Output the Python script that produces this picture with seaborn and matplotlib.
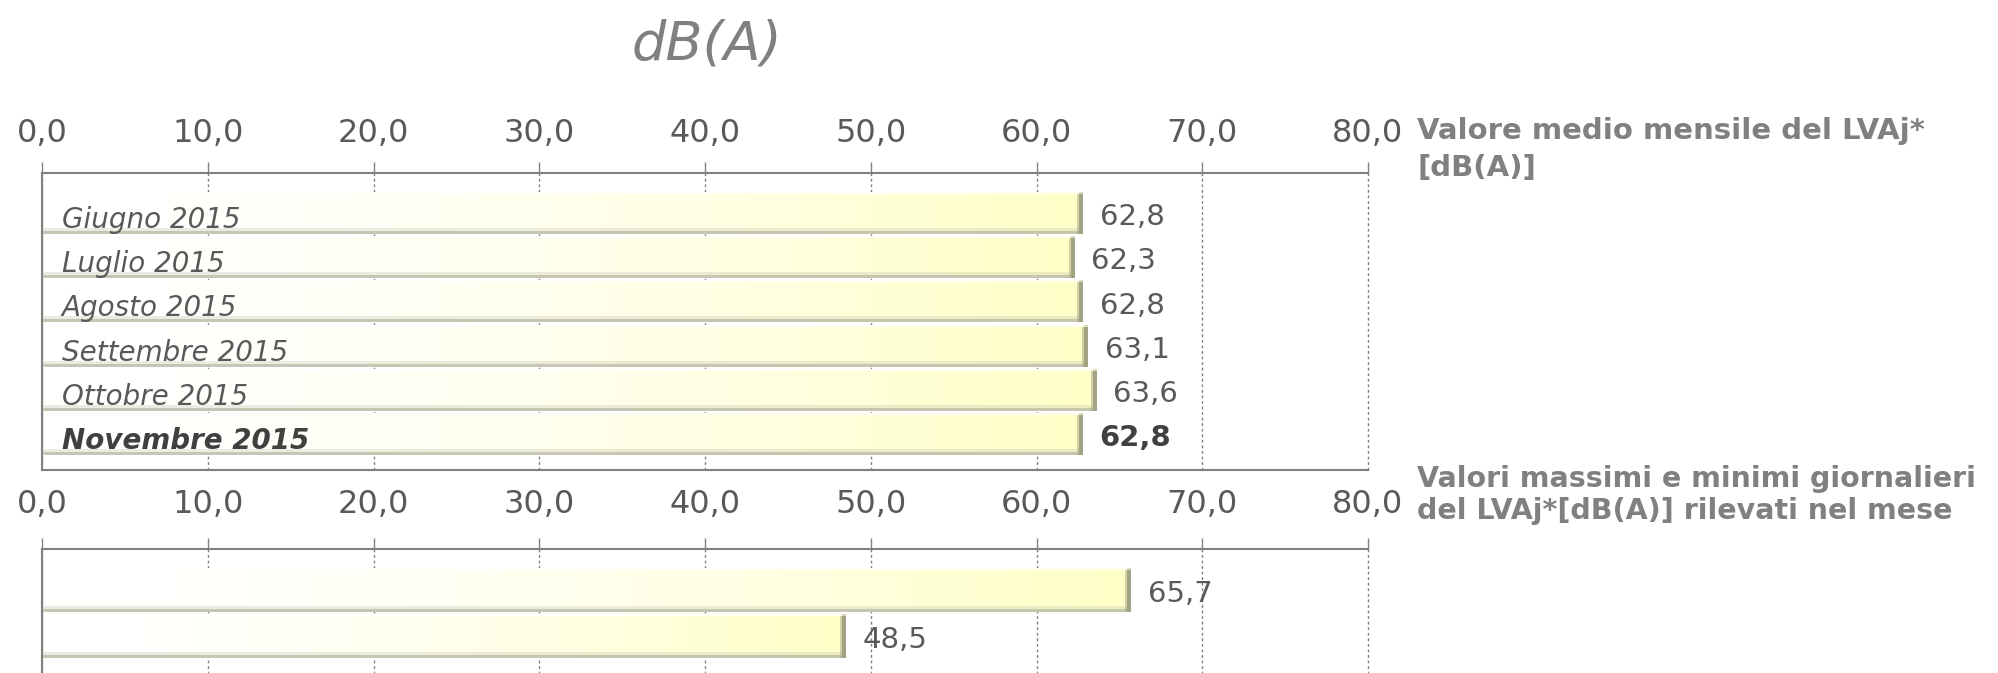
import numpy as np
import pandas as pd
import matplotlib
matplotlib.use("Agg")
import matplotlib.pyplot as plt
import seaborn as sns

# ---------------- data ----------------
months = ["Giugno 2015", "Luglio 2015", "Agosto 2015", "Settembre 2015",
          "Ottobre 2015", "Novembre 2015"]
lvaj_mean = [62.8, 62.3, 62.8, 63.1, 63.6, 62.8]
extreme_names = ["Massimo", "Minimo"]
extreme_values = [65.7, 48.5]
x_ticks = [0, 10, 20, 30, 40, 50, 60, 70, 80]
title_text = "dB(A)"
panel1_title = ["Valore medio mensile del LVAj*", "[dB(A)]"]
panel2_title = ["Valori massimi e minimi giornalieri", "del LVAj*[dB(A)] rilevati nel mese"]

# ---------------- style ----------------
sns.set_style("white")
plt.rcParams["font.family"] = ["DejaVu Sans"]

GRAY = "#808080"
TXT = "#595959"

W, H = 1998, 673
fig = plt.figure(figsize=(W / 100, H / 100), dpi=100)
fig.patch.set_facecolor("white")

ax1 = fig.add_axes([42 / W, 1 - 470 / H, (1368 - 42) / W, (470 - 173) / H])
ax2 = fig.add_axes([42 / W, 1 - 677 / H, (1368 - 42) / W, (677 - 549) / H])

df1 = pd.DataFrame({"mese": months, "valore": lvaj_mean})
df2 = pd.DataFrame({"tipo": extreme_names, "valore": extreme_values})

sns.barplot(data=df1, x="valore", y="mese", orient="h", color="#FFFFD2",
            saturation=1, width=0.95, linewidth=0, ax=ax1)
sns.barplot(data=df2, x="valore", y="tipo", orient="h", color="#FFFFD2",
            saturation=1, width=0.95, linewidth=0, ax=ax2)

lims = {ax1: (5.815, -0.905), ax2: (1.888, -0.888)}
pads = {ax1: 9, ax2: 13}


def fmt(v):
    return f"{v:.1f}".replace(".", ",")


def bar_image(wpx, hpx):
    cols = max(int(round(wpx)), 8)
    rows = max(int(round(hpx)), 8)
    t = np.linspace(0, 1, cols) ** 1.6
    white = np.array([1.0, 1.0, 1.0])
    yellow = np.array([1.0, 1.0, 0.78])
    base = white[None, :] * (1 - t[:, None]) + yellow[None, :] * t[:, None]
    img = np.tile(base[None, :, :], (rows, 1, 1))
    # top highlight
    img[0:2] = img[0:2] * 0.3 + 0.7
    # bottom shadow
    shade = np.array([0.74, 0.74, 0.66])
    img[-3:] = img[-3:] * 0.15 + shade * 0.85
    img[-6:-3] = img[-6:-3] * 0.7 + shade * 0.3
    # right bevel
    dark = np.array([0.64, 0.64, 0.52])
    img[2:, -4:] = dark
    img[2:, -6:-4] = img[2:, -6:-4] * 0.5 + dark * 0.5
    img[0:2, -4:] = np.array([0.85, 0.85, 0.75])
    # slight left edge shadow
    img[:, 0:2] = img[:, 0:2] * 0.6 + np.array([0.85, 0.85, 0.82]) * 0.4
    return np.clip(img, 0, 1)


for ax, vals in ((ax1, lvaj_mean), (ax2, extreme_values)):
    ax.set_xlim(0, 80)
    ax.set_ylim(*lims[ax])
    ax.set_axisbelow(True)
    ax.grid(axis="x", linestyle=(0, (2, 2)), color=GRAY, linewidth=1)
    ax.grid(axis="y", visible=False)
    ax.xaxis.tick_top()
    ax.set_xticks(x_ticks)
    ax.set_xticklabels([fmt(v) for v in x_ticks])
    ax.tick_params(axis="x", which="major", direction="out", length=8,
                   width=1, color=GRAY, labelsize=23, labelcolor=TXT, pad=pads[ax],
                   bottom=False, labelbottom=False, top=True, labeltop=True)
    for gl in ax.get_xgridlines():
        gl.set_clip_on(False)
    ylo, yhi = lims[ax]
    ax.set_yticks([yhi, ylo])
    ax.set_yticklabels(["", ""])
    ax.tick_params(axis="y", direction="out", length=8, width=1.5, color=GRAY)
    ax.set_xlabel("")
    ax.set_ylabel("")
    for side in ("top", "left", "bottom"):
        ax.spines[side].set_visible(True)
        ax.spines[side].set_color(GRAY)
        ax.spines[side].set_linewidth(1.5)
    ax.spines["right"].set_visible(False)

    # gradient / bevel rendering of each bar
    for p in list(ax.patches):
        x0, y0, w, h = p.get_x(), p.get_y(), p.get_width(), p.get_height()
        (px0, py0), (px1, py1) = ax.transData.transform([(x0, y0), (x0 + w, y0 + h)])
        img = bar_image(abs(px1 - px0), abs(py1 - py0))
        ax.imshow(img, extent=(x0, x0 + w, y0 + h, y0), origin="upper",
                  aspect="auto", interpolation="nearest", zorder=p.get_zorder() + 0.1)
    ax.set_xlim(0, 80)
    ax.set_ylim(*lims[ax])

    cont = ax.containers[0]
    texts = ax.bar_label(cont, labels=[fmt(v) for v in vals], padding=12,
                         fontsize=21, color=TXT)
    for t in texts:
        t.set_zorder(10)
        t.xyann = (12, -3)
    if ax is ax1:
        texts[-1].set_fontweight("bold")
        texts[-1].set_color("#404040")

# month labels inside bars
for i, m in enumerate(months):
    last = i == len(months) - 1
    ax1.text(1.2, i + 0.16, m, style="italic", fontsize=20,
             fontweight="bold" if last else "normal",
             color="#404040" if last else TXT, va="center", ha="left", zorder=10)

# titles
fig.text(707 / W, 1 - 44 / H, title_text, style="italic", fontsize=39,
         color=GRAY, ha="center", va="center")
fig.text(1417 / W, 1 - 131 / H, panel1_title[0], fontweight="bold", fontsize=21,
         color=GRAY, ha="left", va="center")
fig.text(1417 / W, 1 - 168 / H, panel1_title[1], fontweight="bold", fontsize=21,
         color=GRAY, ha="left", va="center")
fig.text(1417 / W, 1 - 479 / H, panel2_title[0], fontweight="bold", fontsize=20.5,
         color=GRAY, ha="left", va="center")
fig.text(1417 / W, 1 - 511 / H, panel2_title[1], fontweight="bold", fontsize=20.5,
         color=GRAY, ha="left", va="center")

fig.savefig("out.png", dpi=100, facecolor="white")
